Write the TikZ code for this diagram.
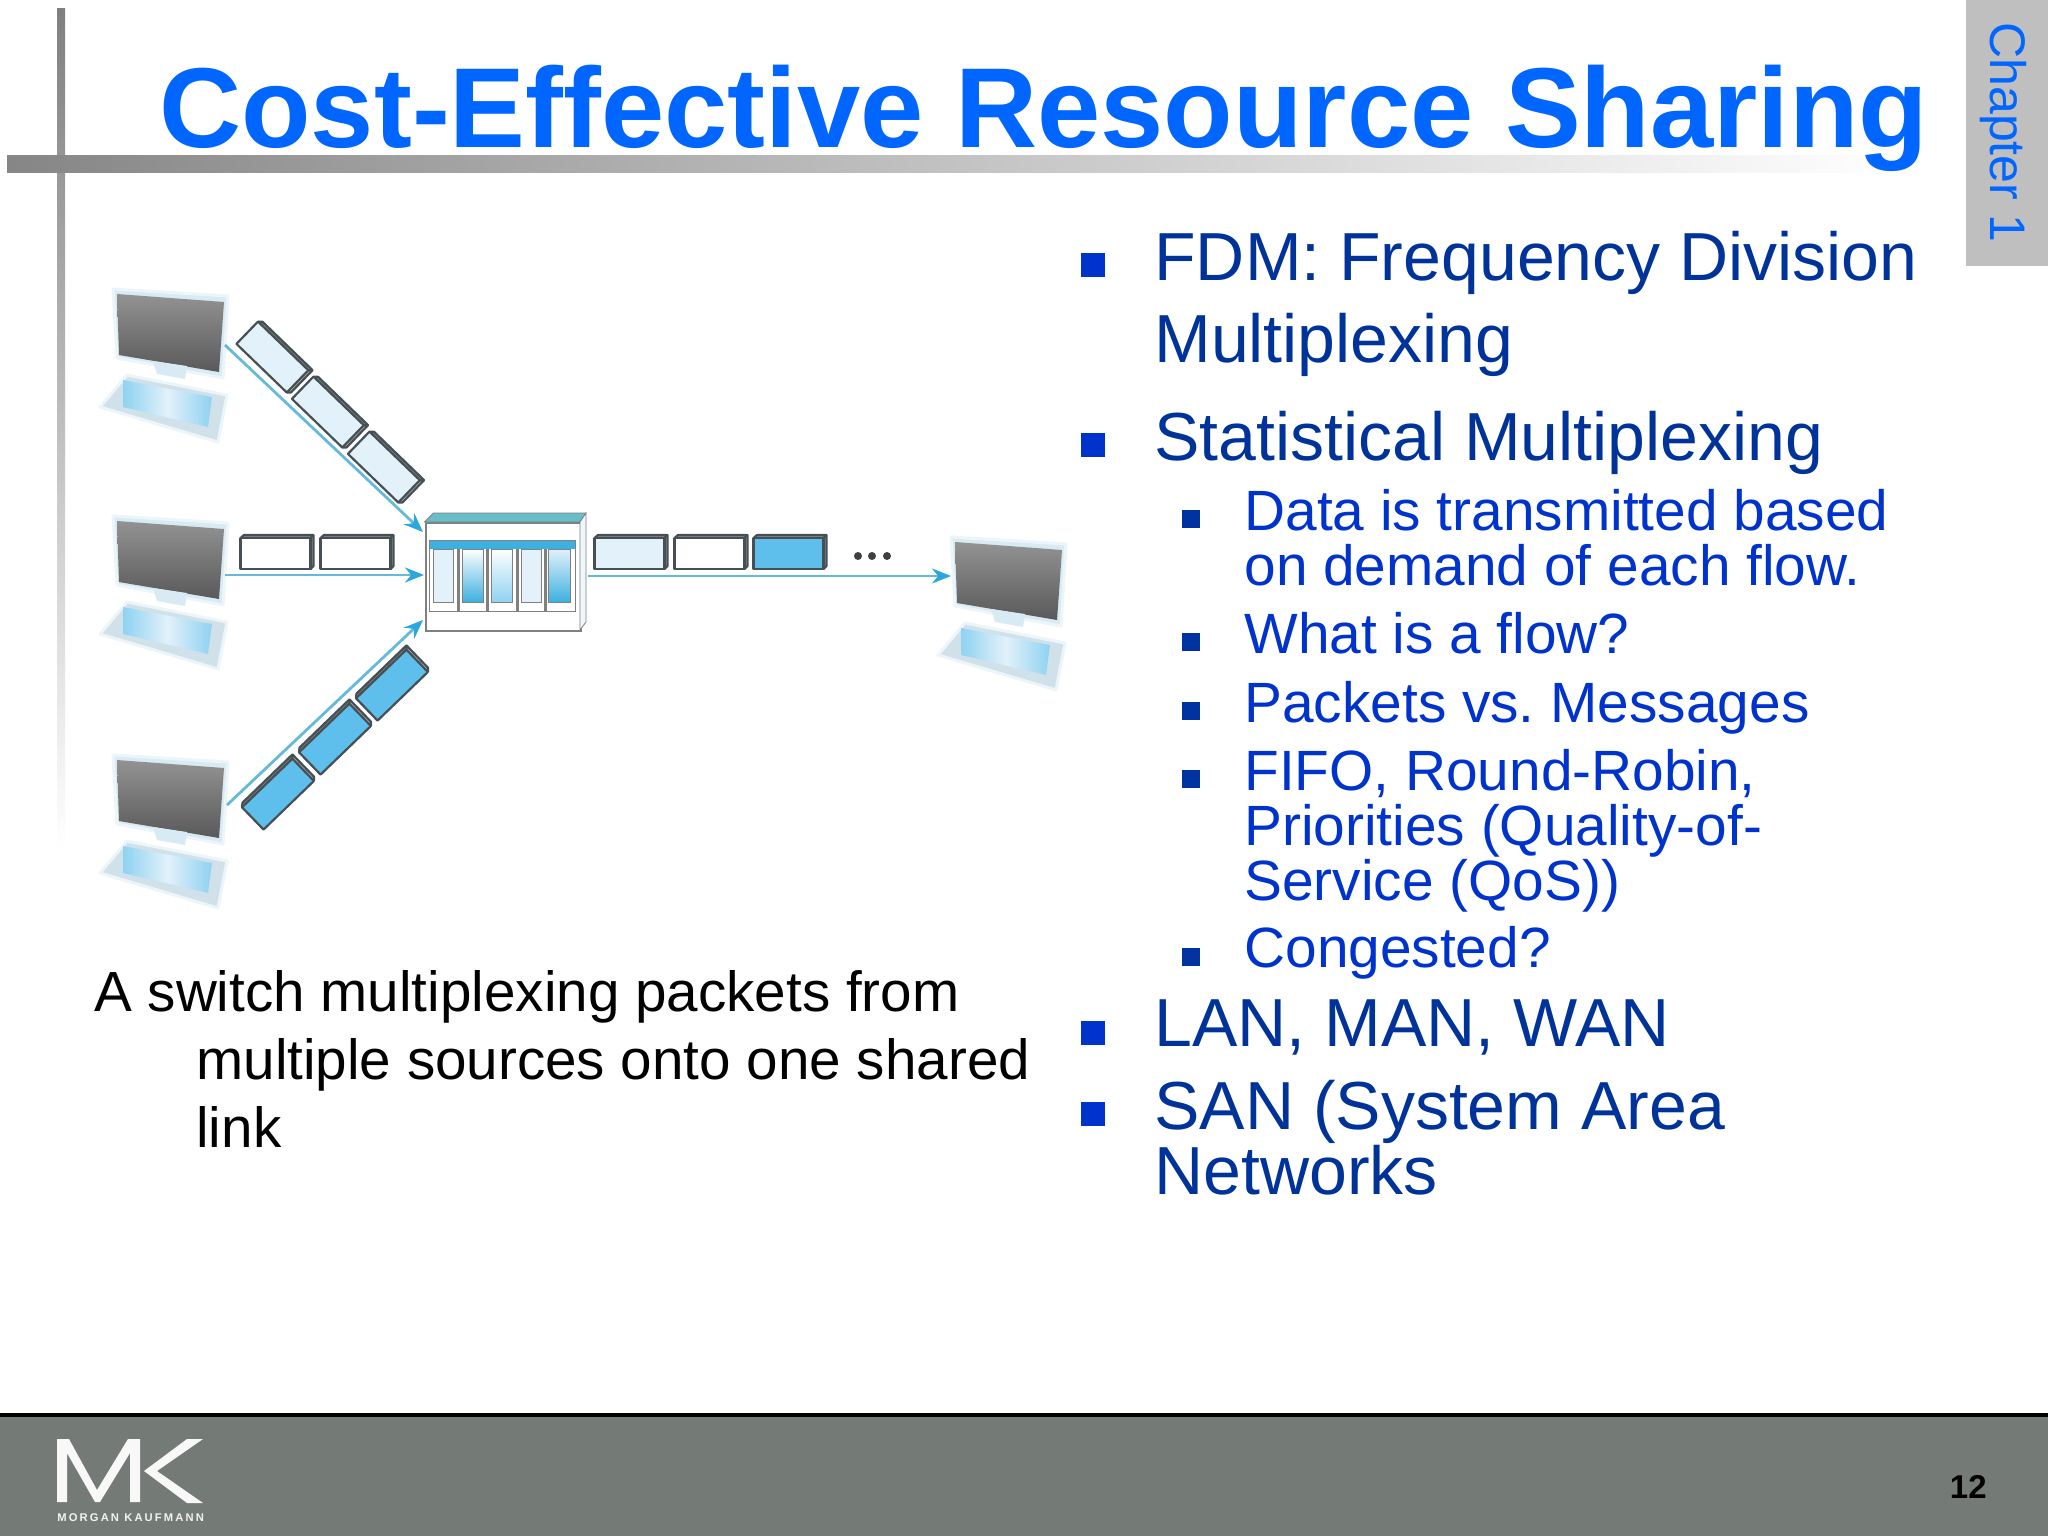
\documentclass[tikz,border=0pt]{standalone}
\usepackage{fontspec}
\setmainfont{Liberation Sans}
\newfontfamily\logofont[LetterSpace=19]{Liberation Sans}
\usetikzlibrary{arrows.meta}
\frenchspacing

\definecolor{mytitle}{RGB}{0,102,255}
\definecolor{mybody}{RGB}{0,51,153}
\definecolor{mysub}{RGB}{0,51,204}
\definecolor{mybullet}{RGB}{0,51,204}
\definecolor{mysubbullet}{RGB}{0,51,160}
\definecolor{myfooter}{RGB}{116,123,118}
\definecolor{mytab}{RGB}{191,191,191}
\definecolor{mylink}{RGB}{100,186,216}
\definecolor{mytip}{RGB}{44,166,220}
\definecolor{myteal}{RGB}{104,190,200}
\definecolor{mypale}{RGB}{226,241,250}
\definecolor{mysky}{RGB}{94,191,236}
\definecolor{myband}{RGB}{60,176,224}
\definecolor{myedge}{RGB}{70,80,84}
\definecolor{myframe}{RGB}{216,234,243}

\tikzset{
	bigtext/.style={anchor=base west, inner sep=0pt, text=mybody, font=\fontsize{34}{34}\selectfont},
	subtext/.style={anchor=base west, inner sep=0pt, text=mysub, font=\fontsize{28.4}{28.4}\selectfont},
	captext/.style={anchor=base west, inner sep=0pt, text=black, font=\fontsize{28.3}{28.3}\selectfont},
	bigdot/.style={fill=mybullet, inner sep=0pt, minimum size=12pt},
	subdot/.style={fill=mysubbullet, inner sep=0pt, minimum size=9pt},
	link/.style={-{Stealth[length=9.5pt,width=7.5pt,color=mytip]}, mylink, line width=1.4pt},
	pktline/.style={draw=myedge, line width=1.1pt, line join=round}
}

% one data packet, centred and turned
\newcommand{\varpacket}[3]{
	\begin{scope}[shift={#1}, rotate=#2]
		\fill [myedge!70] (-36.5,-14) -- (-33,-17) -- (36.5,-17) -- (33.5,-14) -- cycle;
		\fill [gray!60] (33.5,-14) -- (36.5,-17) -- (36.5,14) -- (33.5,17) -- cycle;
		\draw [pktline, fill=#3] (-36.5,-14) rectangle (33.5,17);
		\draw [pktline] (-36.5,-14) -- (-33,-17) -- (36.5,-17) -- (36.5,14) -- (33.5,17);
		\draw [pktline] (33.5,-14) -- (36.5,-17);
	\end{scope}
}

% one computer, from the upper left corner of its screen
\newcommand{\varcomputer}[1]{
	\begin{scope}[shift={#1}]
		\draw [myframe!50, fill=myframe, line width=1.5pt, line join=round] (0,0) -- (115,7) -- (110,89) -- (4,69) -- cycle;
		\shade [top color=gray!85, bottom color=black!65] (4,5) -- (111,13) -- (106,83) -- (6,66) -- cycle;
		\fill [myframe] (40,72) -- (74,77) -- (72,90) -- (44,85) -- cycle;
		\draw [myframe!50, fill=myframe!92!gray, line width=1.5pt, line join=round] (14,86) -- (114,106) -- (105,153) -- (-13,118) -- cycle;
		\shade [left color=mysky!70, right color=mysky!70, middle color=mypale] (10,91) -- (99,108) -- (95,138) -- (10,118) -- cycle;
	\end{scope}
}

\begin{document}
\begin{tikzpicture}[x=0.5pt, y=-0.5pt]
	\useasboundingbox (0,0) rectangle (2048,1536);

	% fillers
	\shade [top color=gray, bottom color=white] (57,9) rectangle (65,850);
	\shade [left color=gray!95, right color=white] (7,155) rectangle (1900,172);
	\fill [mytab] (1966,0) rectangle (2048,266);
	\fill [myfooter] (0,1415) rectangle (2048,1536);
	\fill [black] (0,1413) rectangle (2048,1417);

	% captions
	\node [anchor=base west, inner sep=0pt, text=mytitle, font=\fontsize{56.85}{56.85}\selectfont\bfseries] (title) at (159,148) {Cost-Effective Resource Sharing};
	\node [anchor=base west, inner sep=0pt, text=mytitle, font=\fontsize{25}{25}\selectfont, rotate=-90] (chapter) at (1990,22) {Chapter 1};

	\node [bigtext] (fdmA) at (1154,280) {FDM: Frequency Division};
	\node [bigtext] (fdmB) at (1154,362) {Multiplexing};
	\node [bigtext] (stat) at (1154,460) {Statistical Multiplexing};
	\node [subtext] (dataA) at (1244,530) {Data is transmitted based};
	\node [subtext] (dataB) at (1244,585) {on demand of each flow.};
	\node [subtext] (flow) at (1244,653) {What is a flow?};
	\node [subtext] (pkts) at (1244,722) {Packets vs. Messages};
	\node [subtext] (fifoA) at (1244,790) {FIFO, Round-Robin,};
	\node [subtext] (fifoB) at (1244,845) {Priorities (Quality-of-};
	\node [subtext] (fifoC) at (1244,900) {Service (QoS))};
	\node [subtext] (cong) at (1244,967) {Congested?};
	\node [bigtext] (lan) at (1154,1046) {LAN, MAN, WAN};
	\node [bigtext] (sanA) at (1154,1129) {SAN (System Area};
	\node [bigtext] (sanB) at (1154,1194) {Networks};

	\foreach \vary in {265,445,1033,1114}
		\node [bigdot] (big\vary) at (1093,\vary) {};
	\foreach \vary in {519,642,711,779,957}
		\node [subdot] (sub\vary) at (1191,\vary) {};

	\node [captext] (capA) at (94,1011) {A switch multiplexing packets from};
	\node [captext] (capB) at (196,1079) {multiple sources onto one shared};
	\node [captext] (capC) at (196,1147) {link};

	\node [anchor=base east, inner sep=0pt, font=\fontsize{16.5}{16.5}\selectfont\bfseries] (page) at (1987,1498) {12};

	% computers
	\varcomputer{(113,289)}
	\varcomputer{(113,516)}
	\varcomputer{(113,755)}
	\varcomputer{(951,537)}

	% packets
	\varpacket{(274.5,357)}{-44}{mypale}
	\varpacket{(330,412)}{-44}{mypale}
	\varpacket{(386,467)}{-44}{mypale}
	\varpacket{(277,552)}{0}{white}
	\varpacket{(357,552)}{0}{white}
	\varpacket{(278,792)}{44}{mysky}
	\varpacket{(335,737)}{44}{mysky}
	\varpacket{(392,683)}{44}{mysky}
	\varpacket{(631,552)}{0}{mypale}
	\varpacket{(711,552)}{0}{white}
	\varpacket{(790,552)}{0}{mysky}

	\foreach \varx in {858,872,887}
		\fill [black!75] (\varx,556) circle (2pt);

	% switch
	\node [draw=gray, fill=white, line width=1pt, inner sep=0pt, minimum width=77.75pt, minimum height=54pt, anchor=north west] (switch) at (424.5,522) {};
	\draw [gray, fill=myteal] (424.5,522) -- (433.5,513) -- (586,513) -- (580,522) -- cycle;
	\draw [gray, fill=mypale!60] (580,522) -- (586,513) -- (586,622) -- (580,630) -- cycle;
	\fill [myband] (429,540) rectangle (575,549);
	\draw [gray] (429,540) rectangle (575,611);
	\foreach \varx in {458,487,517,545}
		\draw [gray, line width=1.5pt] (\varx,549) -- (\varx,611);
	\draw [gray, fill=mypale] (433.5,549) rectangle (453.5,602);
	\shade [draw=gray, top color=white, bottom color=myband] (462.5,549) rectangle (483.5,602);
	\shade [draw=gray, top color=white, bottom color=mysky!70] (491.5,549) rectangle (512.5,602);
	\draw [gray, fill=mypale] (521.5,549) rectangle (541.5,602);
	\shade [draw=gray, top color=mypale, bottom color=myband] (548.5,549) rectangle (570.5,602);

	% links
	\coordinate (srcA) at (225,345);
	\coordinate (srcB) at (225,575);
	\coordinate (srcC) at (227,805);
	\coordinate (dst) at (951,576);
	\coordinate (swA) at (423,532);
	\coordinate (swB) at (424,575);
	\coordinate (swC) at (423,620);
	\coordinate (swD) at (588,576);
	\draw [link] (srcA) -- (swA);
	\draw [link] (srcB) -- (swB);
	\draw [link] (srcC) -- (swC);
	\draw [link] (swD) -- (dst);

	% logo
	\fill [white!95!myfooter] (57,1502) -- (57,1439) -- (69,1439) -- (97,1490) -- (128,1439) -- (140,1439) -- (140,1502) -- (130,1502) -- (130,1453) -- (100,1502) -- (95,1502) -- (67,1453) -- (67,1502) -- cycle;
	\fill [white!95!myfooter] (203,1439) -- (187,1439) -- (144,1471) -- (187,1503) -- (203,1503) -- (157,1471) -- cycle;
	\node [anchor=base west, inner sep=0pt, text=white!90!myfooter, font=\logofont\fontsize{5.6}{5.6}\selectfont\bfseries] (logotext) at (57,1521) {MORGAN KAUFMANN};
\end{tikzpicture}
\end{document}
